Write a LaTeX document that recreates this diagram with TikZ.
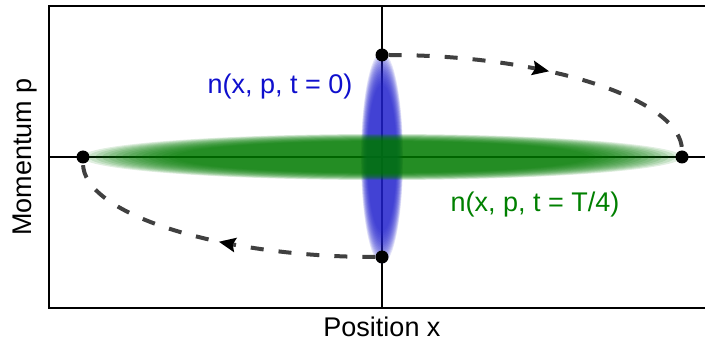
\documentclass[tikz,border=0pt]{standalone}
\usepackage{fontspec}
\setmainfont{Liberation Sans}
\usepackage{tikz}
\usetikzlibrary{decorations.markings}
\definecolor{blobblue}{RGB}{35,35,205}
\definecolor{blobgreen}{RGB}{0,122,0}
\definecolor{orbitgray}{RGB}{64,64,64}
\definecolor{labelblue}{RGB}{15,15,205}
\definecolor{labelgreen}{RGB}{0,128,0}
\tikzset{
  dot/.style={circle,fill=black,inner sep=0pt,minimum size=13pt},
  orbit/.style={orbitgray,line width=4pt,dash pattern=on 13pt off 15pt,
    postaction={decorate},
    decoration={markings,mark=at position #1 with {\fill[black,solid](9pt,0pt)--(-8pt,7.5pt)--(-5pt,0pt)--(-8pt,-7.5pt)--cycle;}}},
  lbl/.style={font=\fontsize{27}{31}\selectfont,inner sep=0pt}
}
\begin{document}
\begin{tikzpicture}[x=1pt,y=1pt]
\useasboundingbox (0,0) rectangle (705,343);
% frame and axes
\draw[line width=2.2pt](706,337)--(49,337)--(49,35)--(706,35);
\draw[line width=2.2pt](382,337)--(382,35) (49,186)--(706,186);
% the two distributions
\foreach \k in {0,...,14}
  \fill[blobblue,opacity=0.12](382,185) ellipse [x radius={21pt*(1-0.022*\k)},y radius={106pt*(1-0.022*\k)}];
\foreach \k in {0,...,14}
  \fill[blobgreen,opacity=0.12](382,186) ellipse [x radius={300pt*(1-0.022*\k)},y radius={23pt*(1-0.022*\k)}];
% turning points
\node[dot](ptop) at (382,288){};
\node[dot](pright) at (682,186){};
\node[dot](pbottom) at (382,86){};
\node[dot](pleft) at (83,186){};
% rotation in phase space
\draw[orbit=0.47](ptop)..controls +(166,0) and +(0,57)..(pright);
\draw[orbit=0.46](pbottom)..controls +(-165,0) and +(0,-56)..(pleft);
% labels
\node[lbl,labelblue](lzero) at (280,256){n(x, p, t = 0)};
\node[lbl,labelgreen](lquarter) at (535,138){n(x, p, t = T/4)};
\node[lbl,rotate=90](ylabel) at (25,186){Momentum p};
\node[lbl](xlabel) at (382,16){Position x};
\end{tikzpicture}
\end{document}
